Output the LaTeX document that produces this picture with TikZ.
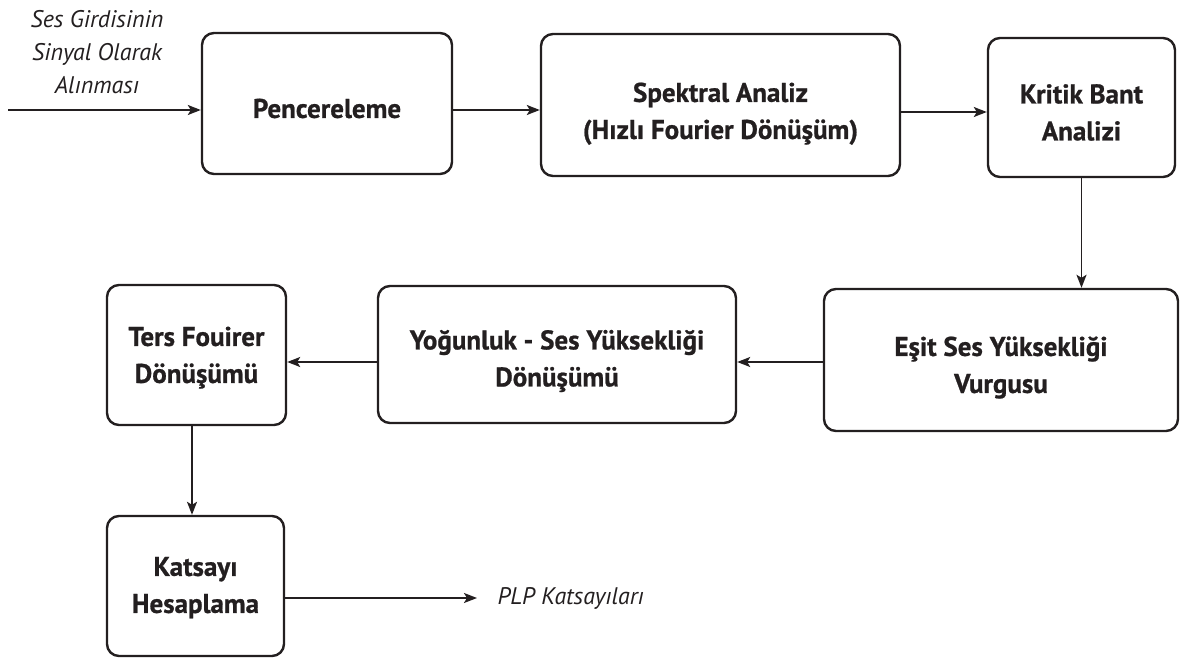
\documentclass[tikz,border=0pt]{standalone}
\usepackage{fontspec}
\setmainfont{PT Sans}[BoldFeatures={FakeBold=0.8}]
\usetikzlibrary{arrows.meta}
\definecolor{ink}{HTML}{231F20}
% centred block of lines, moved by #1 without changing its box
\newcommand{\stagelines}[2]{\raisebox{#1}[\height][\depth]{\begin{tabular}{@{}c@{}}#2\end{tabular}}}
\begin{document}
\begin{tikzpicture}[x=1pt,y=-1pt,
  stage/.style={draw=ink, line width=2.4pt, rounded corners=12pt, inner sep=0pt,
    text=ink, font=\bfseries\fontsize{27}{37}\selectfont},
  flow/.style={draw=ink, line width=1.8pt,
    -{Stealth[length=13pt,width=10pt,inset=3pt]}},
  note/.style={text=ink, align=center, font=\itshape\fontsize{24}{33}\selectfont}]
\useasboundingbox (0,0) rectangle (1181,658);

% processing stages
\node[stage, minimum width=250pt, minimum height=141pt] (win) at (327,103.5)
  {\stagelines{-7pt}{Pencereleme}};
\node[stage, minimum width=359pt, minimum height=142pt] (fft) at (720.5,105)
  {\stagelines{-8pt}{Spektral Analiz\\(Hızlı Fourier Dönüşüm)}};
\node[stage, minimum width=187pt, minimum height=139pt] (band) at (1081.5,107.5)
  {\stagelines{-7pt}{Kritik Bant\\Analizi}};
\node[stage, minimum width=354pt, minimum height=142pt] (eql) at (1001,360)
  {\stagelines{-7pt}{Eşit Ses Yüksekliği\\Vurgusu}};
\node[stage, minimum width=358pt, minimum height=137pt] (loud) at (557,354.5)
  {\stagelines{-6pt}{Yoğunluk - Ses Yüksekliği\\Dönüşümü}};
\node[stage, minimum width=179pt, minimum height=140pt] (ifft) at (196.5,355)
  {\stagelines{-2pt}{Ters Fouirer\\Dönüşümü}};
\node[stage, minimum width=177pt, minimum height=140pt] (coef) at (195.5,586)
  {\stagelines{-1pt}{Katsayı\\Hesaplama}};

% input and output labels
\node[note] (inp) at (97,52) {Ses Girdisinin\\Sinyal Olarak\\Alınması};
\node[note, anchor=west] (plp) at (494,598) {PLP Katsayıları};
\coordinate (src) at (8,110);

% connectors
\draw[flow] (src) -- (src -| win.west);
\draw[flow] (win.east |- src) -- (fft.west |- src);
\draw[flow] (fft.east |- 0,112) -- (band.west |- 0,112);
\draw[flow] (band.south) -- (band.south |- eql.north);
\draw[flow] (eql.west |- 0,362) -- (loud.east |- 0,362);
\draw[flow] (loud.west |- 0,362) -- (ifft.east |- 0,362);
\draw[flow] (ifft.south -| 192,0) -- (coef.north -| 192,0);
\draw[flow, shorten >=17pt] (coef.east |- plp.west) -- (plp.west);
\end{tikzpicture}
\end{document}
